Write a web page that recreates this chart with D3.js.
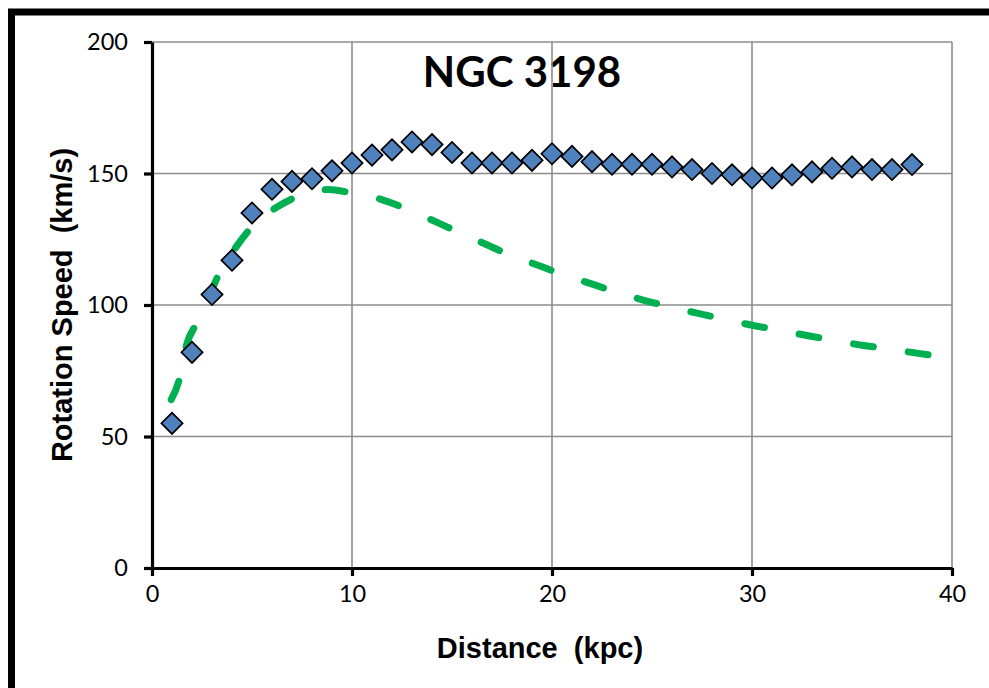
<!DOCTYPE html>
<html>
<head>
<meta charset="utf-8">
<script src="https://cdn.jsdelivr.net/npm/d3@7"></script>
<style>
  body { margin: 0; background: #fff; }
  svg { display: block; }
</style>
</head>
<body>
<svg id="chart" width="989" height="688"></svg>
<script>
// observed rotation speeds (diamonds)
var obsDist = [1, 2, 3, 4, 5, 6, 7, 8, 9, 10, 11, 12, 13, 14, 15, 16, 17, 18, 19, 20,
               21, 22, 23, 24, 25, 26, 27, 28, 29, 30, 31, 32, 33, 34, 35, 36, 37, 38];
var obsSpeed = [55, 82, 104, 117, 135, 144, 147, 148, 151, 154, 157, 159, 162, 161, 158, 154, 154, 154, 155, 157.5,
                156.5, 154.5, 153.5, 153.5, 153.5, 152.5, 151.5, 150, 149.5, 148.3, 148.3, 149.5, 150.6, 152, 152.5, 151.5, 151.5, 153.4];

// expected speed from visible matter (green dashed)
var modelDist = [0.96, 1.4, 1.7, 2.3, 3, 3.4, 4.2, 5, 6.2, 7.3, 8.8, 10, 11.6, 12.8, 14.2, 15.3, 16.8, 17.8,
                 19.3, 20.5, 21.9, 23.2, 24.6, 25.8, 27.3, 28.7, 30, 31.4, 32.8, 34.1, 35.5, 36.9, 38.3, 40];
var modelSpeed = [64, 72.7, 84, 94, 106, 112.6, 122, 129.7, 137, 141.3, 143.9, 142.6, 139.8, 136.3, 131.6, 127.8, 122.7, 119.3,
                  115.1, 111.7, 108.2, 105, 101.8, 99.5, 96.8, 94.5, 92.3, 90.4, 88.3, 86.6, 84.7, 83.3, 81.6, 80];

var xTicks = [0, 10, 20, 30, 40];
var yTicks = [0, 50, 100, 150, 200];
var titleText = "NGC 3198";
var xTitle = "Distance  (kpc)";
var yTitle = "Rotation Speed  (km/s)";

var margins = { top: 42, left: 152, right: 37, bottom: 120 },
    width = 989 - margins.left - margins.right,
    height = 688 - margins.top - margins.bottom;

var svg = d3.select("#chart");

// outer frame, runs off the right and bottom edges
svg.append("rect")
    .attr("x", 11.5).attr("y", 12)
    .attr("width", 1000).attr("height", 700)
    .attr("fill", "none")
    .attr("stroke", "#000")
    .attr("stroke-width", 7);

var x = d3.scaleLinear().domain([0, 40]).range([0, width]);
var y = d3.scaleLinear().domain([0, 200]).range([height, 0]);

var g = svg.append("g")
    .attr("transform", "translate(" + margins.left + "," + margins.top + ")");

// title
g.append("text")
    .attr("x", 370).attr("y", 45)
    .attr("text-anchor", "middle")
    .style("font-family", "Lato, 'Open Sans', sans-serif")
    .style("font-weight", "bold")
    .style("font-size", "42px")
    .text(titleText);

// gridlines
g.selectAll(".hgrid")
    .data(yTicks.slice(1))
    .enter().append("line")
    .attr("x1", 0).attr("x2", width)
    .attr("y1", function(d) { return y(d); })
    .attr("y2", function(d) { return y(d); })
    .attr("stroke", "#8c8c8c").attr("stroke-width", 1.6);

g.selectAll(".vgrid")
    .data(xTicks.slice(1))
    .enter().append("line")
    .attr("y1", 0).attr("y2", height)
    .attr("x1", function(d) { return x(d); })
    .attr("x2", function(d) { return x(d); })
    .attr("stroke", "#8c8c8c").attr("stroke-width", 1.6);

// axes
var xAxis = g.append("g")
    .attr("transform", "translate(0," + height + ")")
    .call(d3.axisBottom(x).tickValues(xTicks).tickSize(8).tickPadding(9).tickSizeOuter(0));
var yAxis = g.append("g")
    .call(d3.axisLeft(y).tickValues(yTicks).tickSize(8).tickPadding(16).tickSizeOuter(0));

[xAxis, yAxis].forEach(function(a) {
    a.select(".domain").attr("stroke", "#000").attr("stroke-width", 3.2);
    a.selectAll(".tick line").attr("stroke", "#000").attr("stroke-width", 3.2);
    a.selectAll(".tick text")
        .attr("fill", "#000")
        .style("font-family", "Lato, 'Open Sans', sans-serif")
        .style("font-size", "23.5px");
});

// model curve
var line = d3.line()
    .x(function(d, i) { return x(modelDist[i]); })
    .y(function(d) { return y(d); })
    .curve(d3.curveMonotoneX);

g.append("path")
    .datum(modelSpeed)
    .attr("d", line)
    .attr("fill", "none")
    .attr("stroke", "#00b050")
    .attr("stroke-width", 7)
    .attr("stroke-linecap", "round")
    .attr("stroke-dasharray", "20 35.3");

// observed points
var diamond = d3.symbol().type(d3.symbolSquare).size(225);
g.selectAll(".pt")
    .data(obsSpeed)
    .enter().append("path")
    .attr("d", diamond)
    .attr("transform", function(d, i) {
        return "translate(" + x(obsDist[i]) + "," + y(d) + ") rotate(45)";
    })
    .attr("fill", "#4f81bd")
    .attr("stroke", "#000")
    .attr("stroke-width", 1.7);

// axis titles
g.append("text")
    .attr("x", 388).attr("y", 616)
    .attr("text-anchor", "middle")
    .style("font-family", "'Liberation Sans', Arial, sans-serif")
    .style("font-weight", "bold")
    .style("font-size", "29px")
    .style("white-space", "pre")
    .text(xTitle);

g.append("text")
    .attr("transform", "translate(-80," + (height / 2) + ") rotate(-90)")
    .attr("text-anchor", "middle")
    .style("font-family", "'Liberation Sans', Arial, sans-serif")
    .style("font-weight", "bold")
    .style("font-size", "29px")
    .style("white-space", "pre")
    .text(yTitle);
</script>
</body>
</html>
